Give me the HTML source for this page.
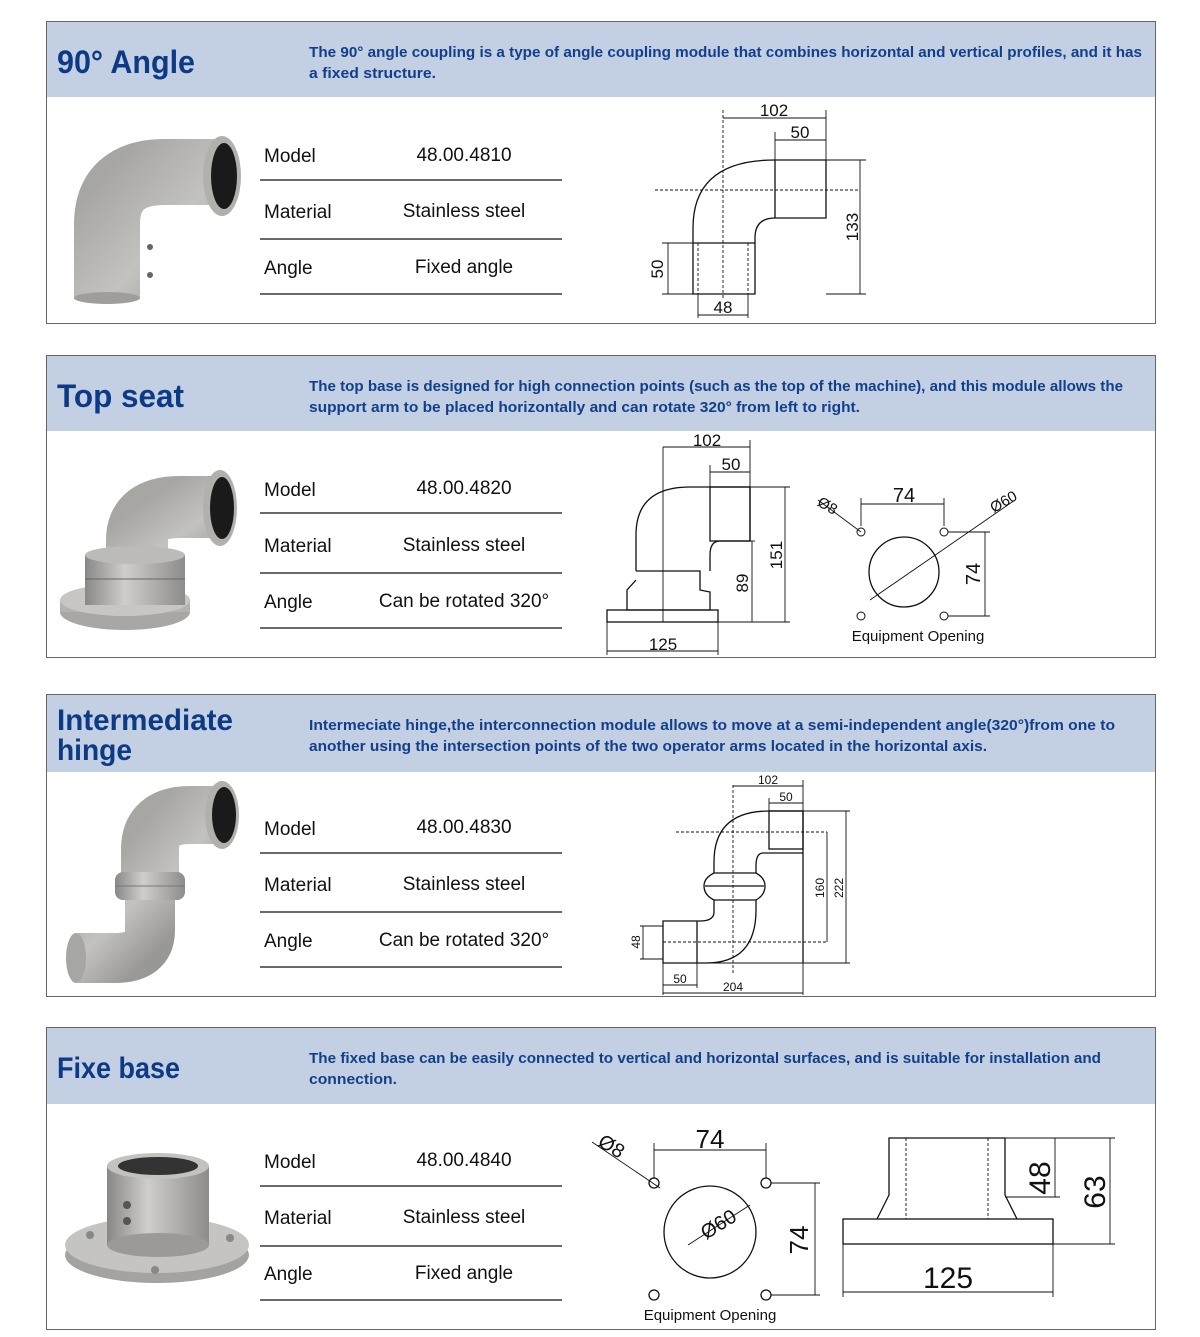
<!DOCTYPE html>
<html><head><meta charset="utf-8"><style>
html,body{margin:0;padding:0;background:#fff;}
svg{display:block;font-family:"Liberation Sans",sans-serif;}
.t{font-weight:bold;fill:#0d3a84;}
.d{font-weight:bold;fill:#123f8a;font-size:15px;}
.l{font-size:19px;fill:#111;}
.v{font-size:19px;fill:#111;text-anchor:middle;}
.dr{fill:none;stroke:#111;stroke-width:1.3;}
.dim{fill:none;stroke:#111;stroke-width:0.9;}
.da{fill:none;stroke:#111;stroke-width:0.9;stroke-dasharray:3 2;}
.n{font-size:17px;fill:#111;text-anchor:middle;}
</style></head><body>
<svg width="1200" height="1337" viewBox="0 0 1200 1337" xmlns="http://www.w3.org/2000/svg">
<defs>
<linearGradient id="mv" x1="0" x2="1" y1="0" y2="0"><stop offset="0" stop-color="#8a8886"/><stop offset="0.4" stop-color="#d0cecb"/><stop offset="1" stop-color="#8e8c8a"/></linearGradient>
<linearGradient id="mh" x1="0" x2="1" y1="0" y2="1"><stop offset="0" stop-color="#a8a6a3"/><stop offset="0.5" stop-color="#c4c2bf"/><stop offset="1" stop-color="#9a9895"/></linearGradient>
</defs>

<g stroke="#666" stroke-width="1" fill="none">
<rect x="46.5" y="21.5" width="1109" height="302"/>
<rect x="46.5" y="355.5" width="1109" height="302"/>
<rect x="46.5" y="694.5" width="1109" height="302"/>
<rect x="46.5" y="1027.5" width="1109" height="302"/>
</g>
<g fill="#c3d0e4">
<rect x="47" y="22" width="1108" height="75"/>
<rect x="47" y="356" width="1108" height="75"/>
<rect x="47" y="695" width="1108" height="77"/>
<rect x="47" y="1028" width="1108" height="76"/>
</g>

<text class="t" x="57" y="73" font-size="32" textLength="138" lengthAdjust="spacingAndGlyphs">90° Angle</text>
<text class="t" x="57" y="407" font-size="32" textLength="127" lengthAdjust="spacingAndGlyphs">Top seat</text>
<text class="t" x="57" y="730" font-size="30" textLength="176" lengthAdjust="spacingAndGlyphs">Intermediate</text>
<text class="t" x="57" y="760" font-size="30" textLength="75" lengthAdjust="spacingAndGlyphs">hinge</text>
<text class="t" x="57" y="1078" font-size="30" textLength="123" lengthAdjust="spacingAndGlyphs">Fixe base</text>

<text class="d" x="309" y="57" textLength="833" lengthAdjust="spacingAndGlyphs">The 90° angle coupling is a type of angle coupling module that combines horizontal and vertical profiles, and it has</text>
<text class="d" x="309" y="78" textLength="127" lengthAdjust="spacingAndGlyphs">a fixed structure.</text>
<text class="d" x="309" y="391" textLength="814" lengthAdjust="spacingAndGlyphs">The top base is designed for high connection points (such as the top of the machine), and this module allows the</text>
<text class="d" x="309" y="412" textLength="551" lengthAdjust="spacingAndGlyphs">support arm to be placed horizontally and can rotate 320° from left to right.</text>
<text class="d" x="309" y="730" textLength="806" lengthAdjust="spacingAndGlyphs">Intermeciate hinge,the interconnection module allows to move at a semi-independent angle(320°)from one to</text>
<text class="d" x="309" y="751" textLength="678" lengthAdjust="spacingAndGlyphs">another using the intersection points of the two operator arms located in the horizontal axis.</text>
<text class="d" x="309" y="1063" textLength="792" lengthAdjust="spacingAndGlyphs">The fixed base can be easily connected to vertical and horizontal surfaces, and is suitable for installation and</text>
<text class="d" x="309" y="1084" textLength="88" lengthAdjust="spacingAndGlyphs">connection.</text>

<g stroke="#111" stroke-width="1.2">
<line x1="260" x2="562" y1="180" y2="180"/><line x1="260" x2="562" y1="239" y2="239"/><line x1="260" x2="562" y1="294" y2="294"/>
<line x1="260" x2="562" y1="513" y2="513"/><line x1="260" x2="562" y1="573" y2="573"/><line x1="260" x2="562" y1="628" y2="628"/>
<line x1="260" x2="562" y1="853" y2="853"/><line x1="260" x2="562" y1="912" y2="912"/><line x1="260" x2="562" y1="967" y2="967"/>
<line x1="260" x2="562" y1="1186" y2="1186"/><line x1="260" x2="562" y1="1246" y2="1246"/><line x1="260" x2="562" y1="1300" y2="1300"/>
</g>
<text class="l" x="264" y="162">Model</text><text class="v" x="464" y="161">48.00.4810</text>
<text class="l" x="264" y="218">Material</text><text class="v" x="464" y="217">Stainless steel</text>
<text class="l" x="264" y="274">Angle</text><text class="v" x="464" y="273">Fixed angle</text>

<text class="l" x="264" y="496">Model</text><text class="v" x="464" y="494">48.00.4820</text>
<text class="l" x="264" y="552">Material</text><text class="v" x="464" y="551">Stainless steel</text>
<text class="l" x="264" y="608">Angle</text><text class="v" x="464" y="607">Can be rotated 320°</text>

<text class="l" x="264" y="835">Model</text><text class="v" x="464" y="833">48.00.4830</text>
<text class="l" x="264" y="891">Material</text><text class="v" x="464" y="890">Stainless steel</text>
<text class="l" x="264" y="947">Angle</text><text class="v" x="464" y="946">Can be rotated 320°</text>

<text class="l" x="264" y="1168">Model</text><text class="v" x="464" y="1166">48.00.4840</text>
<text class="l" x="264" y="1224">Material</text><text class="v" x="464" y="1223">Stainless steel</text>
<text class="l" x="264" y="1280">Angle</text><text class="v" x="464" y="1279">Fixed angle</text>

<!-- Product 1 -->
<path d="M107,298 L107,225 Q107,172 165,172 L222,172" fill="none" stroke="url(#mh)" stroke-width="66"/>
<ellipse cx="107" cy="298" rx="33" ry="6" fill="#a09e9b"/>
<ellipse cx="222" cy="176" rx="19" ry="40" fill="#b2b0ad"/>
<ellipse cx="224" cy="176" rx="13" ry="33" fill="#1a1a1a"/>
<circle cx="150" cy="247" r="3" fill="#666"/><circle cx="150" cy="275" r="3" fill="#666"/>

<!-- Product 2 -->
<ellipse cx="125" cy="612" rx="65" ry="18" fill="#a9a7a4"/>
<rect x="60" y="600" width="130" height="12" fill="#b5b3b0"/>
<ellipse cx="125" cy="600" rx="65" ry="16" fill="#c8c6c3"/>
<path d="M137,565 L137,540 Q137,507 180,507 L220,507" fill="none" stroke="url(#mh)" stroke-width="62"/>
<rect x="85" y="555" width="100" height="50" fill="url(#mv)"/>
<line x1="85" x2="185" y1="579" y2="579" stroke="#666"/>
<ellipse cx="135" cy="555" rx="50" ry="9" fill="#bdbbb8"/>
<ellipse cx="220" cy="508" rx="17" ry="38" fill="#b2b0ad"/>
<ellipse cx="222" cy="508" rx="12" ry="31" fill="#1a1a1a"/>

<!-- Product 3 -->
<path d="M150,900 L150,850 Q150,815 190,815 L222,815" fill="none" stroke="url(#mh)" stroke-width="58"/>
<path d="M150,885 L150,930 Q150,958 115,958 L78,958" fill="none" stroke="url(#mh)" stroke-width="50"/>
<ellipse cx="222" cy="815" rx="17" ry="34" fill="#b2b0ad"/>
<ellipse cx="224" cy="815" rx="12" ry="28" fill="#1a1a1a"/>
<rect x="115" y="872" width="70" height="28" rx="8" fill="url(#mv)"/>
<line x1="115" x2="185" y1="886" y2="886" stroke="#777"/>
<ellipse cx="76" cy="958" rx="10" ry="25" fill="#a8a6a3"/>

<!-- Product 4 -->
<ellipse cx="157" cy="1255" rx="92" ry="28" fill="#a5a3a0"/>
<ellipse cx="157" cy="1245" rx="92" ry="28" fill="#c6c4c1"/>
<rect x="107" y="1165" width="102" height="80" fill="url(#mv)"/>
<ellipse cx="158" cy="1245" rx="51" ry="12" fill="#9c9a97"/>
<ellipse cx="158" cy="1166" rx="51" ry="13" fill="#c4c2bf"/>
<ellipse cx="158" cy="1166" rx="40" ry="9" fill="#333"/>
<circle cx="127" cy="1205" r="4" fill="#555"/><circle cx="127" cy="1221" r="4" fill="#555"/>
<circle cx="90" cy="1235" r="4" fill="#888"/><circle cx="230" cy="1238" r="4" fill="#888"/><circle cx="155" cy="1270" r="4" fill="#888"/>

<!-- Drawing 1 -->
<g>
<path class="dr" d="M693,243 L693,228 Q693,160 775,160 L826,160 L826,218 L775,218 Q755,218 755,238 L755,294 L693,294 L693,243 L755,243"/>
<line class="dr" x1="775" y1="160" x2="775" y2="218"/>
<line class="da" x1="655" y1="190" x2="860" y2="190"/>
<line class="da" x1="723" y1="110" x2="723" y2="300"/>
<line class="da" x1="698" y1="243" x2="698" y2="294"/><line class="da" x1="748" y1="243" x2="748" y2="294"/>
<line class="dim" x1="723" y1="118" x2="826" y2="118"/><line class="dim" x1="826" y1="110" x2="826" y2="160"/>
<line class="dim" x1="775" y1="140" x2="826" y2="140"/><line class="dim" x1="775" y1="132" x2="775" y2="160"/>
<line class="dim" x1="826" y1="160" x2="866" y2="160"/><line class="dim" x1="826" y1="294" x2="866" y2="294"/><line class="dim" x1="860" y1="160" x2="860" y2="294"/>
<line class="dim" x1="668" y1="243" x2="668" y2="294"/><line class="dim" x1="662" y1="243" x2="693" y2="243"/><line class="dim" x1="662" y1="294" x2="693" y2="294"/>
<line class="dim" x1="698" y1="294" x2="698" y2="318"/><line class="dim" x1="748" y1="294" x2="748" y2="318"/><line class="dim" x1="698" y1="315" x2="748" y2="315"/>
<text class="n" x="774" y="116">102</text><text class="n" x="800" y="138">50</text>
<text class="n" x="723" y="313">48</text>
<text class="n" transform="translate(858,227) rotate(-90)">133</text>
<text class="n" transform="translate(663,269) rotate(-90)">50</text>
</g>

<!-- Drawing 2 -->
<g>
<path class="dr" d="M636,571 L636,535 Q636,487 690,487 L750,487 L750,541 L720,541 Q710,541 710,555 L710,571"/>
<rect class="dr" x="710" y="487" width="40" height="54"/>
<path class="dr" d="M636,571 L700,571 L700,590 L710,592 L710,610 L627,610 L627,590 L636,580"/>
<rect class="dr" x="607" y="610" width="111" height="12"/>
<line class="dim" x1="663" y1="447" x2="663" y2="622"/>
<line class="dim" x1="663" y1="447" x2="750" y2="447"/><line class="dim" x1="750" y1="440" x2="750" y2="487"/>
<line class="dim" x1="710" y1="472" x2="750" y2="472"/><line class="dim" x1="710" y1="465" x2="710" y2="487"/>
<line class="dim" x1="750" y1="487" x2="790" y2="487"/><line class="dim" x1="785" y1="487" x2="785" y2="622"/><line class="dim" x1="718" y1="622" x2="790" y2="622"/>
<line class="dim" x1="750" y1="541" x2="755" y2="541"/><line class="dim" x1="752" y1="541" x2="752" y2="622"/>
<line class="dim" x1="607" y1="622" x2="607" y2="655"/><line class="dim" x1="718" y1="622" x2="718" y2="655"/><line class="dim" x1="607" y1="651" x2="718" y2="651"/>
<text class="n" x="707" y="446">102</text><text class="n" x="731" y="470">50</text><text class="n" x="663" y="650">125</text>
<text class="n" transform="translate(782,555) rotate(-90)">151</text>
<text class="n" transform="translate(748,583) rotate(-90)">89</text>
<circle class="dr" cx="904" cy="572" r="35"/>
<g fill="none" stroke="#111"><circle cx="861" cy="532" r="4"/><circle cx="944" cy="532" r="4"/><circle cx="861" cy="616" r="4"/><circle cx="944" cy="616" r="4"/></g>
<line class="dim" x1="861" y1="504" x2="944" y2="504"/><line class="dim" x1="861" y1="498" x2="861" y2="526"/><line class="dim" x1="944" y1="498" x2="944" y2="526"/>
<line class="dim" x1="985" y1="532" x2="985" y2="616"/><line class="dim" x1="948" y1="532" x2="990" y2="532"/><line class="dim" x1="948" y1="616" x2="990" y2="616"/>
<line class="dim" x1="818" y1="500" x2="861" y2="532"/>
<line class="dim" x1="870" y1="600" x2="1015" y2="500"/>
<text x="904" y="502" font-size="20" text-anchor="middle" fill="#111">74</text>
<text transform="translate(980,574) rotate(-90)" font-size="20" text-anchor="middle" fill="#111">74</text>
<text transform="translate(825,510) rotate(30)" font-size="15" text-anchor="middle" fill="#111">Ø8</text>
<text transform="translate(1006,506) rotate(-30)" font-size="15" text-anchor="middle" fill="#111">Ø60</text>
<text x="918" y="641" font-size="15" text-anchor="middle" fill="#111">Equipment Opening</text>
</g>

<!-- Drawing 3 -->
<g>
<path class="dr" d="M769,811 L803,811 L803,963"/>
<rect class="dr" x="769" y="811" width="34" height="38"/>
<path class="dr" d="M714,873 L714,862 Q714,811 769,811"/>
<path class="dr" d="M803,853 L763,853 Q756,853 756,866 L756,873"/>
<path class="dr" d="M714,873 Q704,878 704,886 Q704,895 714,900 L756,900 Q765,895 765,886 Q765,878 756,873 Z"/>
<line class="dr" x1="705" y1="886" x2="764" y2="886"/>
<path class="dr" d="M714,900 L714,912 Q714,921 700,921 L663,921 L663,963 L706,963 Q756,963 756,910 L756,900"/>
<line class="dr" x1="697" y1="921" x2="697" y2="963"/>
<line class="dim" x1="706" y1="963" x2="822" y2="963"/>
<line class="da" x1="733" y1="785" x2="733" y2="975"/>
<line class="da" x1="676" y1="832" x2="827" y2="832"/><line class="da" x1="663" y1="942" x2="827" y2="942"/>
<line class="dim" x1="733" y1="786" x2="803" y2="786"/><line class="dim" x1="803" y1="780" x2="803" y2="811"/>
<line class="dim" x1="769" y1="803" x2="803" y2="803"/><line class="dim" x1="769" y1="798" x2="769" y2="811"/>
<line class="dim" x1="827" y1="832" x2="827" y2="942"/>
<line class="dim" x1="803" y1="811" x2="850" y2="811"/><line class="dim" x1="846" y1="811" x2="846" y2="963"/><line class="dim" x1="803" y1="963" x2="850" y2="963"/>
<line class="dim" x1="643" y1="926" x2="643" y2="959"/><line class="dim" x1="640" y1="926" x2="663" y2="926"/><line class="dim" x1="640" y1="959" x2="663" y2="959"/>
<line class="dim" x1="663" y1="963" x2="663" y2="995"/><line class="dim" x1="697" y1="963" x2="697" y2="988"/>
<line class="dim" x1="663" y1="985" x2="697" y2="985"/><line class="dim" x1="663" y1="993" x2="803" y2="993"/><line class="dim" x1="803" y1="963" x2="803" y2="995"/>
<text x="768" y="784" font-size="12" text-anchor="middle" fill="#111">102</text>
<text x="786" y="801" font-size="12" text-anchor="middle" fill="#111">50</text>
<text x="680" y="983" font-size="12" text-anchor="middle" fill="#111">50</text>
<text x="733" y="991" font-size="12" text-anchor="middle" fill="#111">204</text>
<text transform="translate(824,888) rotate(-90)" font-size="12" text-anchor="middle" fill="#111">160</text>
<text transform="translate(843,888) rotate(-90)" font-size="12" text-anchor="middle" fill="#111">222</text>
<text transform="translate(640,942) rotate(-90)" font-size="12" text-anchor="middle" fill="#111">48</text>
</g>

<!-- Drawing 4 -->
<g>
<circle class="dr" cx="710" cy="1232" r="46"/>
<g fill="none" stroke="#111" stroke-width="1.3"><circle cx="654" cy="1183" r="5"/><circle cx="766" cy="1183" r="5"/><circle cx="654" cy="1295" r="5"/><circle cx="766" cy="1295" r="5"/></g>
<line class="dim" x1="654" y1="1150" x2="766" y2="1150"/><line class="dim" x1="654" y1="1143" x2="654" y2="1178"/><line class="dim" x1="766" y1="1143" x2="766" y2="1178"/>
<line class="dim" x1="815" y1="1183" x2="815" y2="1295"/><line class="dim" x1="771" y1="1183" x2="820" y2="1183"/><line class="dim" x1="771" y1="1295" x2="820" y2="1295"/>
<line class="dim" x1="592" y1="1142" x2="660" y2="1188"/>
<line class="dim" x1="688" y1="1245" x2="750" y2="1205"/>
<text x="710" y="1148" font-size="26" text-anchor="middle" fill="#111">74</text>
<text transform="translate(808,1240) rotate(-90)" font-size="26" text-anchor="middle" fill="#111">74</text>
<text transform="translate(608,1152) rotate(32)" font-size="20" text-anchor="middle" fill="#111">Ø8</text>
<text transform="translate(722,1230) rotate(-32)" font-size="20" text-anchor="middle" fill="#111">Ø60</text>
<text x="710" y="1320" font-size="15" text-anchor="middle" fill="#111">Equipment Opening</text>

<rect class="dr" x="843" y="1219" width="210" height="25"/>
<path class="dr" d="M877,1219 L889,1195 L889,1138 L1005,1138 L1005,1195 L1017,1219"/>
<line class="da" x1="906" y1="1138" x2="906" y2="1219"/><line class="da" x1="988" y1="1138" x2="988" y2="1219"/>
<line class="dim" x1="1005" y1="1138" x2="1115" y2="1138"/><line class="dim" x1="1005" y1="1197" x2="1060" y2="1197"/><line class="dim" x1="1053" y1="1244" x2="1115" y2="1244"/>
<line class="dim" x1="1055" y1="1138" x2="1055" y2="1197"/><line class="dim" x1="1110" y1="1138" x2="1110" y2="1244"/>
<line class="dim" x1="843" y1="1244" x2="843" y2="1297"/><line class="dim" x1="1053" y1="1244" x2="1053" y2="1297"/><line class="dim" x1="843" y1="1292" x2="1053" y2="1292"/>
<text x="948" y="1288" font-size="30" text-anchor="middle" fill="#111">125</text>
<text transform="translate(1050,1178) rotate(-90)" font-size="30" text-anchor="middle" fill="#111">48</text>
<text transform="translate(1105,1192) rotate(-90)" font-size="30" text-anchor="middle" fill="#111">63</text>
</g>
</svg>
</body></html>
